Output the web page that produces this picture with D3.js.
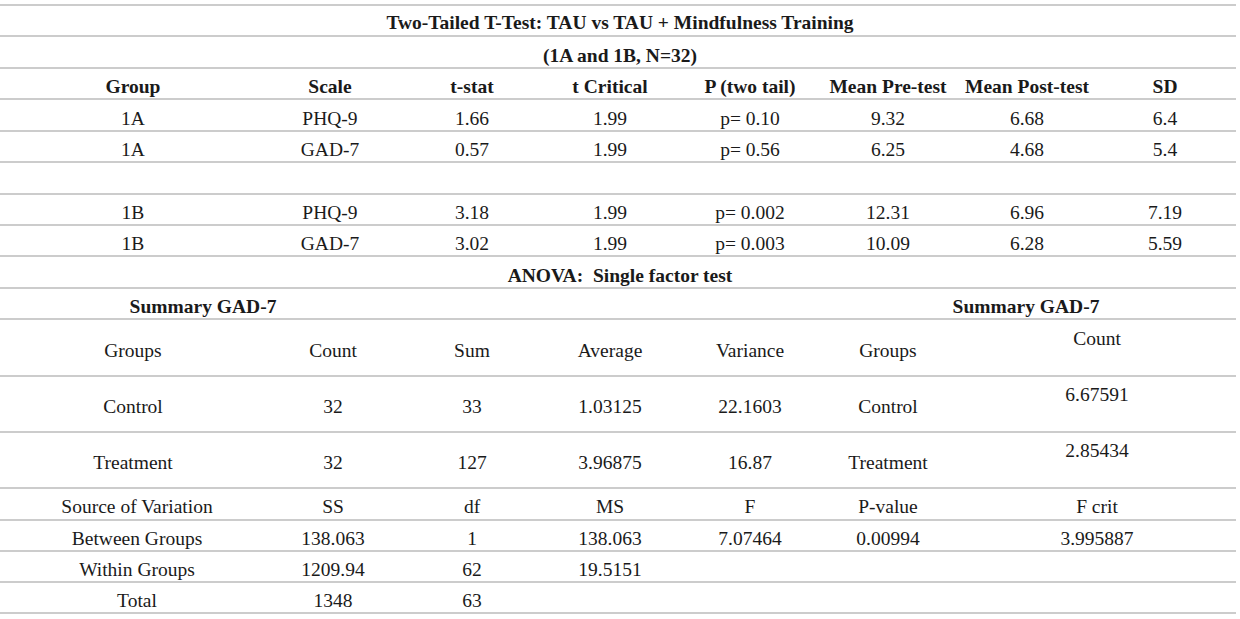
<!DOCTYPE html>
<html>
<head>
<meta charset="utf-8">
<script src="https://cdn.jsdelivr.net/npm/d3@7"></script>
<style>
  body { margin: 0; background: #fff; }
  text { font-family: "Liberation Serif", "DejaVu Serif", serif; fill: #1a1a1a; white-space: pre; }
  .rule { stroke: #999; stroke-width: 1.2; }
  .bold { font-weight: bold; }
</style>
</head>
<body>
<div id="chart"></div>
<script>
// --- data ---
var title = "Two-Tailed T-Test: TAU vs TAU + Mindfulness Training";
var subtitle = "(1A and 1B, N=32)";
var ttestHeaders = ["Group", "Scale", "t-stat", "t Critical", "P (two tail)", "Mean Pre-test", "Mean Post-test", "SD"];
var ttestRows = [
  ["1A", "PHQ-9", "1.66", "1.99", "p= 0.10", "9.32", "6.68", "6.4"],
  ["1A", "GAD-7", "0.57", "1.99", "p= 0.56", "6.25", "4.68", "5.4"],
  [],
  ["1B", "PHQ-9", "3.18", "1.99", "p= 0.002", "12.31", "6.96", "7.19"],
  ["1B", "GAD-7", "3.02", "1.99", "p= 0.003", "10.09", "6.28", "5.59"]
];
var anovaTitle = "ANOVA:  Single factor test";
var summaryTitles = ["Summary GAD-7", "Summary GAD-7"];
var summaryHeaders = ["Groups", "Count", "Sum", "Average", "Variance", "Groups"];
var summaryRows = [
  ["Control", "32", "33", "1.03125", "22.1603", "Control"],
  ["Treatment", "32", "127", "3.96875", "16.87", "Treatment"]
];
var summaryRightHeader = "Count";
var summaryRightValues = ["6.67591", "2.85434"];
var anovaHeaders = ["Source of Variation", "SS", "df", "MS", "F", "P-value", "F crit"];
var anovaRows = [
  ["Between Groups", "138.063", "1", "138.063", "7.07464", "0.00994", "3.995887"],
  ["Within Groups", "1209.94", "62", "19.5151"],
  ["Total", "1348", "63"]
];

// --- layout ---
var width = 1240, height = 619;
var fs = 19.5;
var ruleY = [5, 36, 68, 99, 131, 162, 194, 225, 256, 288, 319, 376, 432, 488, 520, 551, 582, 613];

var svg = d3.select("#chart").append("svg")
  .attr("width", width)
  .attr("height", height);

svg.append("rect").attr("width", width).attr("height", height).attr("fill", "#fff");

// column scales
var colX = d3.scaleOrdinal()
  .domain(d3.range(8))
  .range([133, 330, 472, 610, 750, 888, 1027, 1165]);
var sumX = d3.scaleOrdinal()
  .domain(d3.range(6))
  .range([133, 333, 472, 610, 750, 888]);
var anovaX = d3.scaleOrdinal()
  .domain(d3.range(7))
  .range([137, 333, 472, 610, 750, 888, 1097]);
var rightX = 1097;

// horizontal rules
svg.selectAll(".rule")
  .data(ruleY)
  .enter().append("line")
  .attr("class", "rule")
  .attr("x1", 0).attr("x2", 1236)
  .attr("y1", function (d) { return d; })
  .attr("y2", function (d) { return d; });

function cells(cls, data, xs, y, bold) {
  svg.selectAll("." + cls)
    .data(data)
    .enter().append("text")
    .attr("class", cls + (bold ? " bold" : ""))
    .attr("x", function (d, i) { return xs(i); })
    .attr("y", y)
    .attr("text-anchor", "middle")
    .attr("font-size", fs)
    .text(function (d) { return d; });
}

function label(str, x, y, bold) {
  svg.append("text")
    .attr("class", bold ? "bold" : null)
    .attr("x", x).attr("y", y)
    .attr("text-anchor", "middle")
    .attr("font-size", fs)
    .text(str);
}

// t-test block
label(title, 620, 29, true);
label(subtitle, 620, 62, true);
cells("th", ttestHeaders, colX, 93, true);
var rowBase = [125, 156, 188, 219, 250];
ttestRows.forEach(function (r, k) {
  cells("tr" + k, r, colX, rowBase[k], false);
});

// ANOVA summary block
label(anovaTitle, 620, 282, true);
label(summaryTitles[0], 203, 313, true);
label(summaryTitles[1], 1026, 313, true);
cells("sh", summaryHeaders, sumX, 357, false);
label(summaryRightHeader, rightX, 345, false);
var sumBase = [413, 469];
summaryRows.forEach(function (r, k) {
  cells("sr" + k, r, sumX, sumBase[k], false);
  label(summaryRightValues[k], rightX, sumBase[k] - 12, false);
});

// ANOVA table
cells("ah", anovaHeaders, anovaX, 513, false);
var anovaBase = [545, 576, 607];
anovaRows.forEach(function (r, k) {
  cells("ar" + k, r, anovaX, anovaBase[k], false);
});
</script>
</body>
</html>
